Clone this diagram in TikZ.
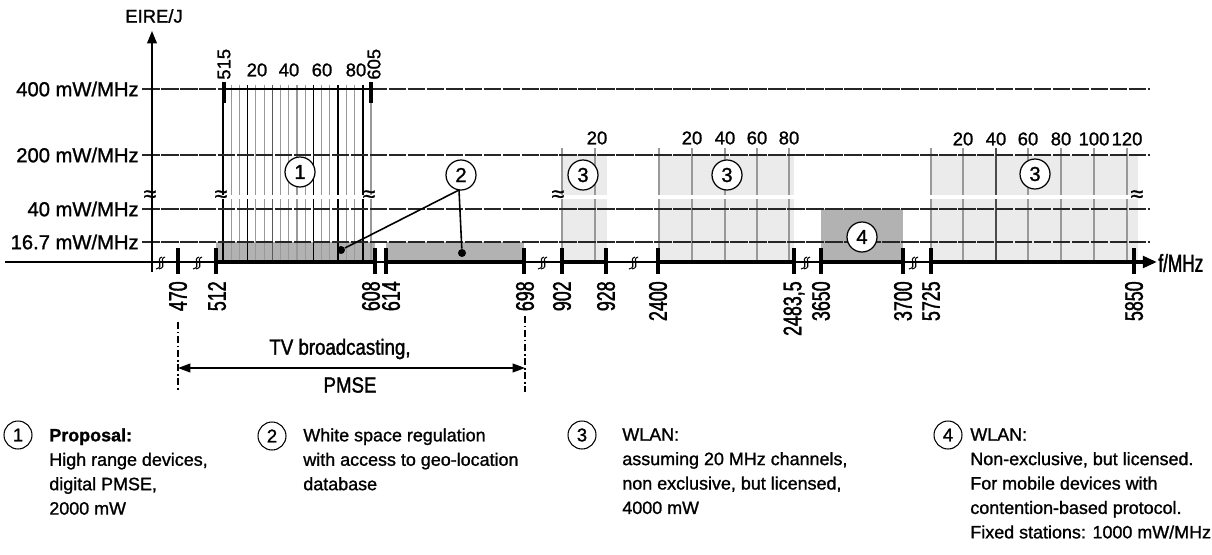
\documentclass[tikz,border=0pt]{standalone}
\usepackage{fontspec}
\setmainfont{Liberation Sans}[FakeBold=1.2]
\newfontfamily\narrowfont{Liberation Sans}[FakeStretch=0.7, FakeBold=1.5]
\newfontfamily\tvfont{Liberation Sans}[FakeStretch=0.85, FakeBold=1.5]
\usetikzlibrary{arrows.meta}
\tikzset{
  lvl/.style={draw=black!85, line width=0.8pt, dash pattern=on 10pt off 0.8pt},
  thinax/.style={line width=0.9pt},
  thickax/.style={line width=2.2pt},
  tickbar/.style={line width=2.4pt},
  ticklab/.style={rotate=90, anchor=east, inner sep=0, font=\narrowfont\fontsize{14.5}{14}\selectfont},
  toplab/.style={rotate=90, anchor=west, inner sep=0, font=\fontsize{10.5}{11}\selectfont},
  chlab/.style={inner sep=0, font=\fontsize{10.5}{11}\selectfont},
  lvllab/.style={anchor=east, inner sep=0, font=\fontsize{11.5}{12}\selectfont},
  circ/.style={circle, draw, fill=white, line width=0.7pt, minimum size=0.6cm, inner sep=0, font=\fontsize{11.5}{12}\selectfont},
  lcirc/.style={circle, draw, line width=0.6pt, minimum size=0.56cm, inner sep=0, font=\fontsize{10.5}{11}\selectfont},
  legtext/.style={anchor=north west, inner sep=0, align=left, font=\fontsize{10.2}{13.9}\selectfont},
  tvline/.style={draw=black!40, line width=0.6pt},
  tvdark/.style={draw=black, line width=0.9pt},
  wline/.style={draw=black!40, line width=0.7pt},
  lightreg/.style={fill=black!8},
  darkreg/.style={fill=black!30},
  dot/.style={circle, fill=black, minimum size=0.16cm, inner sep=0},
  approx/.style={inner sep=0, font=\fontsize{13}{13}\selectfont},
  dashdot/.style={line width=0.7pt, dash pattern=on 4pt off 1.5pt on 1pt off 1.5pt},
  vbreak/.pic={
    \draw[line width=0.6pt] (-4,6) .. controls (5,4) and (-5,-4) .. (2,-6);
    \draw[line width=0.6pt] (-1,6) .. controls (8,4) and (-2,-4) .. (5,-6);
  }
}
\begin{document}
\begin{tikzpicture}[x=0.02cm, y=-0.02cm]
\useasboundingbox (0,0) rectangle (1212,554);

% shaded regions
\fill[lightreg] (562,155) rectangle (607,262);
\fill[lightreg] (659,155) rectangle (794,262);
\fill[lightreg] (931,155) rectangle (1138,262);
\fill[darkreg] (216,242) rectangle (375,262);
\fill[darkreg] (386,242) rectangle (524,262);
\fill[darkreg] (821,209) rectangle (903,262);

% TV channel lines
\foreach \k in {1,2,4,5,7,8,9,10,12,13,15,16,18}
  \draw[tvline] ({223+\k*8.222},85) -- ({223+\k*8.222},262);
\draw[draw=black!65, line width=0.8pt] ({223+6*8.222},85) -- ({223+6*8.222},262);
\foreach \k in {3,11,14,17}
  \draw[tvdark] ({223+\k*8.222},85) -- ({223+\k*8.222},262);
\draw[line width=1.1pt] (223,85) -- (223,262);

% WLAN channel lines
\foreach \x in {562,595,659,692,725,757,789,931,963,1028,1061,1094,1127}
  \draw[wline] (\x,148) -- (\x,262);
\draw[draw=black!70, line width=0.8pt] (996,148) -- (996,262);

% level lines
\foreach \y in {89,155,209,242}
  \draw[lvl] (142,\y) -- (1150,\y);
\draw[line width=1.6pt] (223,89) -- (371,89);
\draw[tickbar] (224,82) -- (224,103);
\draw[tickbar] (371,82) -- (371,103);

% axis break strip
\draw[white, line width=2.2pt] (216,197) -- (376,197);
\draw[white, line width=2.2pt] (556,197) -- (1140,197);
\foreach \x in {150,221,369,558,1137}
  \node[approx] at (\x,196) {≈};

% axes
\coordinate (yb) at (152,272);
\coordinate (yt) at (152,31);
\draw[thinax, -{Triangle[length=7pt,width=5.5pt]}] (yb) -- (yt);
\coordinate (xl) at (5,262);
\coordinate (xr) at (1140,262);
\draw[thinax] (xl) -- (xr);
\draw[thickax] (216,262) -- (375,262);
\draw[thickax] (386,262) -- (524,262);
\draw[thickax] (562,262) -- (606,262);
\draw[thickax] (658,262) -- (794,262);
\draw[thickax] (821,262) -- (903,262);
\draw[thickax, -{Triangle[length=8pt,width=6.5pt]}] (931,262) -- (1157,262);
\foreach \x in {178,216,375,386,524,562,606,658,794,821,903,931,1134}
  \draw[tickbar] (\x,248) -- (\x,274);
\foreach \x in {160,197,542,633,805,913}
  \pic at (\x,263) {vbreak};

% labels
\node[inner sep=0, font=\fontsize{10.5}{11}\selectfont] (ylab) at (154,16) {EIRE/J};
\node[anchor=west, inner sep=0, font=\narrowfont\fontsize{14}{14}\selectfont] (xlab) at (1158,263) {f/MHz};
\node[lvllab] at (139,89) {400 mW/MHz};
\node[lvllab] at (139,155) {200 mW/MHz};
\node[lvllab] at (139,209) {40 mW/MHz};
\node[lvllab] at (139,242) {16.7 mW/MHz};

\node[toplab] at (224,80) {515};
\node[toplab] at (374,80) {605};
\node[chlab] at (257,70) {20};
\node[chlab] at (289,70) {40};
\node[chlab] at (322,70) {60};
\node[chlab] at (356,70) {80};
\node[chlab] at (597,138) {20};
\foreach \x/\t in {692/20,725/40,757/60,789/80}
  \node[chlab] at (\x,138) {\t};
\foreach \x/\t in {963/20,996/40,1028/60,1061/80,1094/100,1127/120}
  \node[chlab] at (\x,139) {\t};

\foreach \x/\t in {178/470,217/512,371/608,391/614,525/698,562/902,606/928,658/2400,794/{2483,5},821/3650,903/3700,931/5725,1134/5850}
  \node[ticklab] at (\x,281) {\t};

% TV broadcasting range
\coordinate (t1) at (178,322);
\coordinate (t1b) at (178,392);
\coordinate (t2) at (525,316);
\coordinate (t2b) at (525,392);
\draw[dashdot] (t1) -- (t1b);
\draw[dashdot] (t2) -- (t2b);
\coordinate (a1) at (178,368);
\coordinate (a2) at (525,368);
\draw[line width=0.8pt, {Triangle[length=7pt,width=5pt]}-{Triangle[length=7pt,width=5pt]}] (a1) -- (a2);
\node[inner sep=0, font=\tvfont\fontsize{12.5}{13}\selectfont] at (340,349) {TV broadcasting,};
\node[inner sep=0, font=\tvfont\fontsize{12.5}{13}\selectfont] at (350,385) {PMSE};

% circles in plot
\node[circ] (c1) at (300,172) {1};
\node[circ] (c2) at (461,175) {2};
\node[circ] (c3a) at (583,175) {3};
\node[circ] (c3b) at (727,175) {3};
\node[circ] (c3c) at (1035,174) {3};
\node[circ] (c4) at (862,237) {4};
\coordinate (c2b) at (459,190);
\node[dot] (d1) at (341,250) {};
\node[dot] (d2) at (462,253) {};
\draw[line width=0.9pt] (c2b) -- (d1);
\draw[line width=0.9pt] (c2b) -- (d2);

% legend
\node[lcirc] (l1) at (18,435) {1};
\node[legtext] at (49,428) {\textbf{Proposal:}\\High range devices,\\digital PMSE,\\2000 mW};
\node[lcirc] (l2) at (272,436) {2};
\node[legtext] at (303,428) {White space regulation\\with access to geo-location\\database};
\node[lcirc] (l3) at (582,435) {3};
\node[legtext] at (622,428) {WLAN:\\assuming 20 MHz channels,\\non exclusive, but licensed,\\4000 mW};
\node[lcirc] (l4) at (948,435) {4};
\node[legtext] at (970,428) {WLAN:\\Non-exclusive, but licensed.\\For mobile devices with\\contention-based protocol.\\Fixed stations: 1000 mW/MHz};
\end{tikzpicture}
\end{document}
